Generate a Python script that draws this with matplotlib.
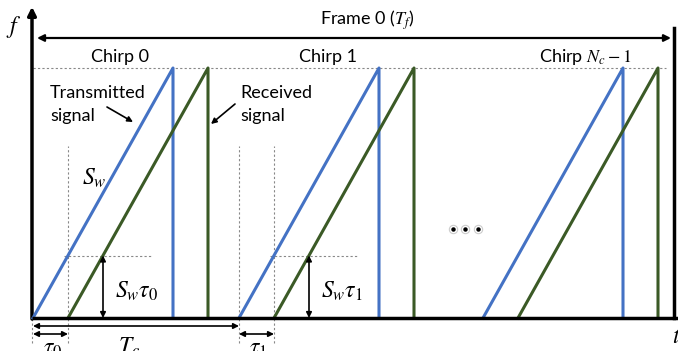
import matplotlib
matplotlib.use("Agg")
import matplotlib.pyplot as plt

# ---- data (time in arbitrary units, frequency normalised to 1) ----
chirp_starts = [0, 206, 450]          # start time of each transmitted chirp
chirp_delays = [35, 35, 35]           # round-trip delay tau_i
ramp_duration = 140                   # chirp ramp time
f_max = 1.0
chirp_labels = ["Chirp 0", "Chirp 1", r"Chirp $N_c-1$"]
frame_end = 641
sw_tau_level = 0.25

plt.rcParams['mathtext.fontset'] = 'stix'
plt.rcParams['font.family'] = ['Lato', 'DejaVu Sans']

fig = plt.figure(figsize=(6.78, 3.51), dpi=100)
ax = fig.add_axes([0, 0, 1, 1])
ax.set_xlim(-33, 645)
ax.set_ylim(-0.132, 1.272)
ax.axis('off')

blue = '#4472C4'
green = '#3B5A26'
dot_kw = dict(color='#888888', lw=0.8, ls=(0, (2, 2)))
fs = 13
mfs = 17

# axes
ax.annotate('', xy=(-1, 1.245), xytext=(-1, -0.004),
            arrowprops=dict(arrowstyle='-|>', lw=2.5, color='black', mutation_scale=12, shrinkA=0, shrinkB=0))
ax.plot([-1, 645], [0, 0], color='black', lw=2.5, solid_capstyle='butt', zorder=5)
ax.plot([frame_end, frame_end], [0, 1.16], color='black', lw=2.5)
ax.text(-19, 1.165, r'$f$', fontsize=mfs, ha='center', va='center')
ax.text(643, -0.075, r'$t$', fontsize=mfs, ha='center', va='center')

# frame arrow
ax.annotate('', xy=(4, 1.12), xytext=(638, 1.12),
            arrowprops=dict(arrowstyle='<|-|>', lw=1.6, color='black', mutation_scale=10, shrinkA=0, shrinkB=0))
ax.text(334, 1.19, r'Frame 0 ($T_f$)', fontsize=fs, ha='center', va='center')

# top dotted line
ax.plot([0, 633], [f_max, f_max], **dot_kw)

# chirps
label_pos = [87, 295, 552]
for s, d, lab, lp in zip(chirp_starts, chirp_delays, chirp_labels, label_pos):
    e = s + ramp_duration
    ax.plot([s, e, e], [0, f_max, 0], color=blue, lw=2.2, zorder=3)
    ax.plot([s + d, e + d, e + d], [0, f_max, 0], color=green, lw=2.2, zorder=3)
    ax.text(lp, 1.045, lab, fontsize=fs, ha='center', va='center')

# annotations for first two chirps
for i, (s, d) in enumerate(zip(chirp_starts[:2], chirp_delays[:2])):
    ax.plot([s + d, s + d], [-0.1, 0.69], **dot_kw)
    if i > 0:
        ax.plot([s, s], [-0.1, 0.69], **dot_kw)
    else:
        ax.plot([s - 1, s - 1], [-0.1, 0], **dot_kw)
    xm = s + d + sw_tau_level * ramp_duration
    ax.plot([s + d - 4, xm + 48], [sw_tau_level, sw_tau_level], **dot_kw)
    ax.annotate('', xy=(xm, sw_tau_level), xytext=(xm, 0),
                arrowprops=dict(arrowstyle='<|-|>', lw=1.2, color='black', mutation_scale=8, shrinkA=0, shrinkB=0))
    ax.text(xm + 12, 0.105, r'$S_w\tau_%d$' % i, fontsize=mfs, ha='left', va='center')
    ax.annotate('', xy=(s, -0.064), xytext=(s + d, -0.064),
                arrowprops=dict(arrowstyle='<|-|>', lw=1.2, color='black', mutation_scale=8, shrinkA=0, shrinkB=0))
    ax.text(s + d / 2 + 2, -0.128, r'$\tau_%d$' % i, fontsize=mfs, ha='center', va='center')

# T_c arrow
ax.annotate('', xy=(chirp_starts[0], -0.032), xytext=(chirp_starts[1], -0.032),
            arrowprops=dict(arrowstyle='<|-|>', lw=1.2, color='black', mutation_scale=8, shrinkA=0, shrinkB=0))
ax.text(96, -0.118, r'$T_c$', fontsize=mfs, ha='center', va='center')

ax.text(49, 0.56, r'$S_w$', fontsize=mfs, ha='left', va='center')

# signal labels
ax.text(17, 0.853, 'Transmitted\nsignal', fontsize=fs, ha='left', va='center', linespacing=1.5)
ax.annotate('', xy=(100, 0.784), xytext=(74, 0.844),
            arrowprops=dict(arrowstyle='-|>', lw=1.2, color='black', mutation_scale=8, shrinkA=0, shrinkB=0))
ax.text(207, 0.853, 'Received\nsignal', fontsize=fs, ha='left', va='center', linespacing=1.5)
ax.annotate('', xy=(178, 0.776), xytext=(202, 0.856),
            arrowprops=dict(arrowstyle='-|>', lw=1.2, color='black', mutation_scale=8, shrinkA=0, shrinkB=0))

# ellipsis
for xd in [420, 432, 445]:
    ax.plot(xd, 0.356, 'o', ms=6, mfc='white', mec='#cccccc', mew=0.8)
    ax.plot(xd, 0.356, 'o', ms=2.2, color='black')

fig.savefig('out.png', dpi=100)
